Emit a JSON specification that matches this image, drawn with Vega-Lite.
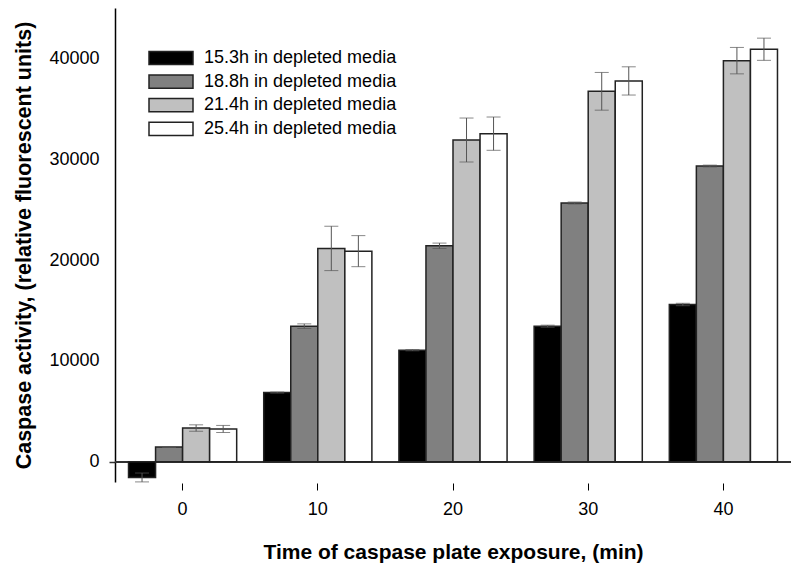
{
  "$schema": "https://vega.github.io/schema/vega-lite/v6.json",
  "width": 676,
  "height": 474,
  "autosize": "none",
  "padding": {"left": 115, "top": 8, "right": 9, "bottom": 96},
  "background": "white",
  "config": {
    "view": {"stroke": null},
    "font": "Liberation Sans",
    "axis": {"labelFont": "Liberation Sans", "titleFont": "Liberation Sans", "labelColor": "black", "titleColor": "black"}
  },
  "data": {
    "values": [
      {"time": 0, "group": "15.3h in depleted media", "value": -1550, "lo": -1990, "hi": -1110},
      {"time": 0, "group": "18.8h in depleted media", "value": 1470, "lo": 1420, "hi": 1520},
      {"time": 0, "group": "21.4h in depleted media", "value": 3350, "lo": 3030, "hi": 3670},
      {"time": 0, "group": "25.4h in depleted media", "value": 3260, "lo": 2910, "hi": 3610},
      {"time": 10, "group": "15.3h in depleted media", "value": 6870, "lo": 6820, "hi": 6920},
      {"time": 10, "group": "18.8h in depleted media", "value": 13450, "lo": 13220, "hi": 13680},
      {"time": 10, "group": "21.4h in depleted media", "value": 21160, "lo": 18960, "hi": 23360},
      {"time": 10, "group": "25.4h in depleted media", "value": 20890, "lo": 19350, "hi": 22430},
      {"time": 20, "group": "15.3h in depleted media", "value": 11070, "lo": 11010, "hi": 11130},
      {"time": 20, "group": "18.8h in depleted media", "value": 21420, "lo": 21150, "hi": 21690},
      {"time": 20, "group": "21.4h in depleted media", "value": 31910, "lo": 29730, "hi": 34090},
      {"time": 20, "group": "25.4h in depleted media", "value": 32540, "lo": 30890, "hi": 34190},
      {"time": 30, "group": "15.3h in depleted media", "value": 13450, "lo": 13350, "hi": 13550},
      {"time": 30, "group": "18.8h in depleted media", "value": 25660, "lo": 25560, "hi": 25760},
      {"time": 30, "group": "21.4h in depleted media", "value": 36740, "lo": 34870, "hi": 38610},
      {"time": 30, "group": "25.4h in depleted media", "value": 37770, "lo": 36370, "hi": 39170},
      {"time": 40, "group": "15.3h in depleted media", "value": 15600, "lo": 15480, "hi": 15720},
      {"time": 40, "group": "18.8h in depleted media", "value": 29330, "lo": 29240, "hi": 29420},
      {"time": 40, "group": "21.4h in depleted media", "value": 39780, "lo": 38470, "hi": 41090},
      {"time": 40, "group": "25.4h in depleted media", "value": 40910, "lo": 39810, "hi": 42010}
    ]
  },
  "encoding": {
    "x": {
      "field": "time", "type": "ordinal", "sort": "ascending",
      "scale": {"paddingInner": 0.2, "paddingOuter": 0.1},
      "axis": {
        "title": "Time of caspase plate exposure, (min)",
        "titleFontSize": 21, "titleFontWeight": "bold", "titlePadding": 23,
        "labelAngle": 0, "labelFontSize": 18, "labelPadding": 10,
        "domain": false, "ticks": true, "tickSize": 7, "tickColor": "black", "tickWidth": 1,
        "offset": 1
      }
    },
    "xOffset": {"field": "group", "type": "nominal", "scale": {"paddingInner": 0, "paddingOuter": 0}}
  },
  "layer": [
    {
      "mark": {"type": "rule", "color": "#333333", "strokeWidth": 1.5},
      "encoding": {"y": {"datum": 0, "type": "quantitative"}, "x": null, "xOffset": null}
    },
    {
      "mark": {"type": "bar", "stroke": "#222222", "strokeWidth": 1.5},
      "encoding": {
        "y": {
          "field": "value", "type": "quantitative",
          "scale": {"domain": [-2000, 45000], "nice": false, "zero": false},
          "axis": {
            "title": "Caspase activity, (relative fluorescent units)",
            "titleFontSize": 21.5, "titleFontWeight": "bold", "titlePadding": 13,
            "values": [0, 10000, 20000, 30000, 40000],
            "labelFontSize": 18, "labelPadding": 10, "format": "d",
            "grid": false, "domainColor": "black", "domainWidth": 1.5,
            "tickSize": 6, "tickColor": "#333333", "tickWidth": 1.5,
            "tickOpacity": {"expr": "datum.value == 0 ? 1 : 0"}
          }
        },
        "y2": {"datum": 0},
        "fill": {
          "field": "group", "type": "nominal",
          "scale": {
            "domain": ["15.3h in depleted media", "18.8h in depleted media", "21.4h in depleted media", "25.4h in depleted media"],
            "range": ["#000000", "#808080", "#c0c0c0", "#ffffff"]
          },
          "legend": {
            "title": null, "orient": "none", "legendX": 47, "legendY": 41,
            "symbolType": "M-4.4,-1.32H4.4V1.32H-4.4Z", "symbolSize": 100,
            "symbolStrokeColor": "#222222", "symbolStrokeWidth": 1.5,
            "labelFontSize": 18, "labelFont": "Liberation Sans", "labelColor": "black",
            "labelLimit": 400, "labelOffset": 24, "rowPadding": 3.6, "padding": 0
          }
        }
      }
    },
    {
      "mark": {"type": "rule", "color": "#555555", "strokeWidth": 1},
      "encoding": {
        "y": {"field": "lo", "type": "quantitative"},
        "y2": {"field": "hi"}
      }
    },
    {
      "mark": {"type": "tick", "color": "#555555", "thickness": 1, "size": 14, "orient": "horizontal"},
      "encoding": {"y": {"field": "lo", "type": "quantitative"}}
    },
    {
      "mark": {"type": "tick", "color": "#555555", "thickness": 1, "size": 14, "orient": "horizontal"},
      "encoding": {"y": {"field": "hi", "type": "quantitative"}}
    }
  ]
}
